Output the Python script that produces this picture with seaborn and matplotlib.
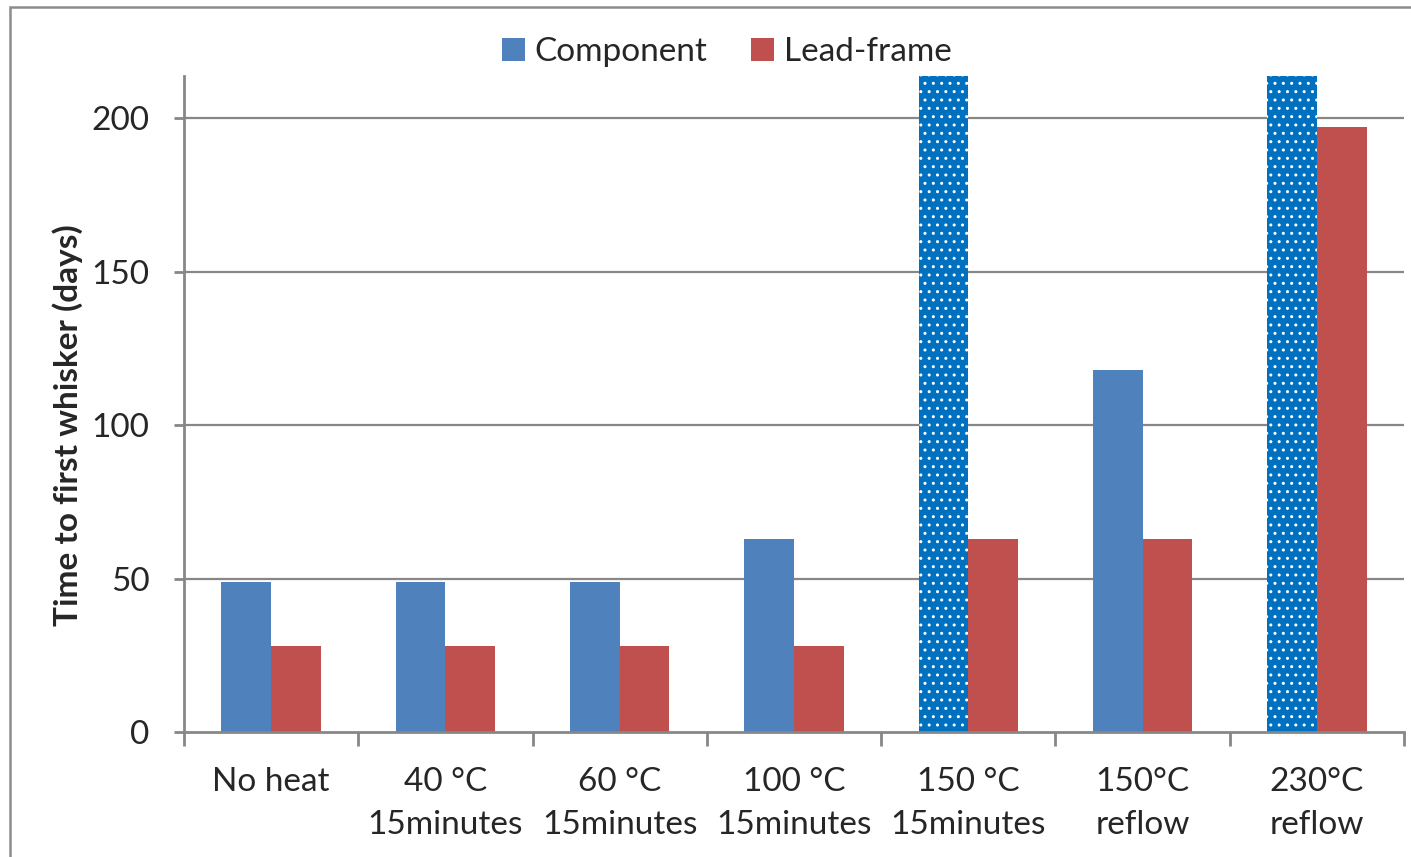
import numpy as np
import pandas as pd
import matplotlib
matplotlib.use("Agg")
import matplotlib.pyplot as plt
from matplotlib.patches import Rectangle
import seaborn as sns

# --- data -------------------------------------------------------------
conditions = ["No heat", "40 °C\n15minutes", "60 °C\n15minutes", "100 °C\n15minutes",
              "150 °C\n15minutes", "150°C\nreflow", "230°C\nreflow"]
series_names = ["Component", "Lead-frame"]
# NaN marks a component that grew no whisker within the observation window
component_days = [49, 49, 49, 63, np.nan, 118, np.nan]
leadframe_days = [28, 28, 28, 28, 63, 63, 197]
y_ticks = [0, 50, 100, 150, 200]
Y_MAX = 213.7

# --- styling ----------------------------------------------------------
sns.set_theme(style="white")
plt.rcParams["font.family"] = ["Lato", "DejaVu Sans"]
BLUE = "#4F81BD"
RED = "#C0504D"
PATTERN_BLUE = "#0070C0"
GRID = "#878787"
FS = 24

comp = np.array(component_days, dtype=float)
off_scale = np.isnan(comp)
comp_drawn = np.where(off_scale, Y_MAX, comp)

df = pd.DataFrame({
    "condition": conditions * 2,
    "series": [series_names[0]] * len(conditions) + [series_names[1]] * len(conditions),
    "days": list(comp_drawn) + list(leadframe_days),
})

fig = plt.figure(figsize=(14.11, 8.57), dpi=100)
ax = fig.add_axes([184 / 1411, 1 - 732 / 857, (1404 - 184) / 1411, (732 - 76) / 857])

sns.barplot(data=df, x="condition", y="days", hue="series", palette=[BLUE, RED],
            order=conditions, hue_order=series_names, width=0.57, saturation=1,
            edgecolor="none", linewidth=0, ax=ax, legend=True)

# off-scale components drawn with a dotted fill reaching the top of the axis
plt.rcParams["hatch.linewidth"] = 1.6
for bar, flag in zip(ax.containers[0], off_scale):
    if flag:
        bar.set_facecolor(PATTERN_BLUE)
        bar.set_edgecolor("white")
        bar.set_linewidth(0)
        bar.set_hatch("..")

ax.set_ylim(0, Y_MAX)
ax.set_xlim(-0.5, len(conditions) - 0.5)
ax.set_yticks(y_ticks)
ax.set_yticklabels([str(t) for t in y_ticks], fontsize=FS)
ax.set_xticks(np.arange(len(conditions)))
ax.set_xticklabels(conditions, fontsize=FS, linespacing=1.55)
ax.tick_params(axis="x", length=0, pad=25)
ax.tick_params(axis="y", length=7, width=2, color=GRID, pad=18, left=True)

# category boundary ticks on the x axis
ax.set_xticks(np.arange(-0.5, len(conditions)), minor=True)
ax.tick_params(axis="x", which="minor", length=10, width=2, color=GRID, bottom=True)

for y in y_ticks[1:]:
    ax.axhline(y, color=GRID, lw=1.6, zorder=0)

for side in ["top", "right"]:
    ax.spines[side].set_visible(False)
for side in ["left", "bottom"]:
    ax.spines[side].set_color(GRID)
    ax.spines[side].set_linewidth(2)

ax.set_xlabel("")
ax.set_ylabel("Time to first whisker (days)", fontsize=FS, fontweight="bold")
ax.yaxis.set_label_coords(-0.083, 0.468)

handles, labels = ax.get_legend_handles_labels()
ax.legend(handles[:2], labels[:2], loc="center", bbox_to_anchor=(0.515, 0.939),
          bbox_transform=fig.transFigure, ncol=2, frameon=False, fontsize=FS,
          handlelength=0.68, handleheight=0.68, handletextpad=0.3, columnspacing=1.3)

# outer chart frame
fig.patches.append(Rectangle((10 / 1411, -0.1), 1.2, 1 - 7 / 857 + 0.1,
                             transform=fig.transFigure, fill=False,
                             edgecolor="#8C8C8C", lw=1.8))

fig.savefig("out.png", dpi=100)
